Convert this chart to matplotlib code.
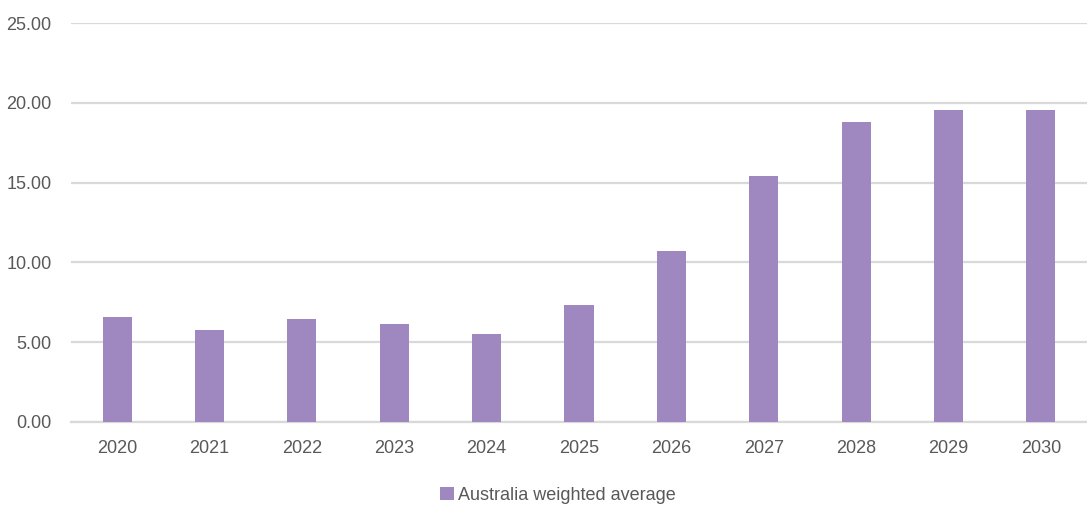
import matplotlib
matplotlib.use("Agg")
import matplotlib.pyplot as plt

years = ["2020", "2021", "2022", "2023", "2024", "2025", "2026", "2027", "2028", "2029", "2030"]
weighted_avg = [6.59, 5.77, 6.46, 6.15, 5.48, 7.30, 10.69, 15.41, 18.82, 19.54, 19.55]
y_ticks = [0, 5, 10, 15, 20, 25]
series_name = "Australia weighted average"

bar_color = "#9E88BF"
text_color = "#595959"
grid_color = "#D9D9D9"

plt.rcParams["font.family"] = ["Liberation Sans", "DejaVu Sans"]

fig = plt.figure(figsize=(10.87, 5.09), dpi=100)
ax = fig.add_axes([71 / 1087, 1 - 421.7 / 509, 1016 / 1087, (421.7 - 23.3) / 509])

x = list(range(len(years)))
ax.bar(x, weighted_avg, width=0.315, color=bar_color, label=series_name, zorder=3)

ax.set_xlim(-0.5, len(years) - 0.5)
ax.set_ylim(0, 25)
ax.set_yticks(y_ticks)
ax.set_yticklabels([f"{v:.2f}" for v in y_ticks])
ax.set_xticks(x)
ax.set_xticklabels(years)

ax.yaxis.grid(True, color=grid_color, linewidth=1.6, zorder=0)
ax.set_axisbelow(True)
for side in ["top", "right", "left"]:
    ax.spines[side].set_visible(False)
ax.spines["bottom"].set_color(grid_color)
ax.spines["bottom"].set_linewidth(1.6)
ax.tick_params(axis="both", length=0, labelsize=13, labelcolor=text_color)
ax.tick_params(axis="x", pad=13)
ax.tick_params(axis="y", pad=14)

fig.legend(loc="center", bbox_to_anchor=(558 / 1087, 1 - 495 / 509), frameon=False,
           fontsize=13, labelcolor=text_color, handlelength=0.75, handleheight=0.75,
           handletextpad=0.25)

fig.savefig("out.png", dpi=100)
